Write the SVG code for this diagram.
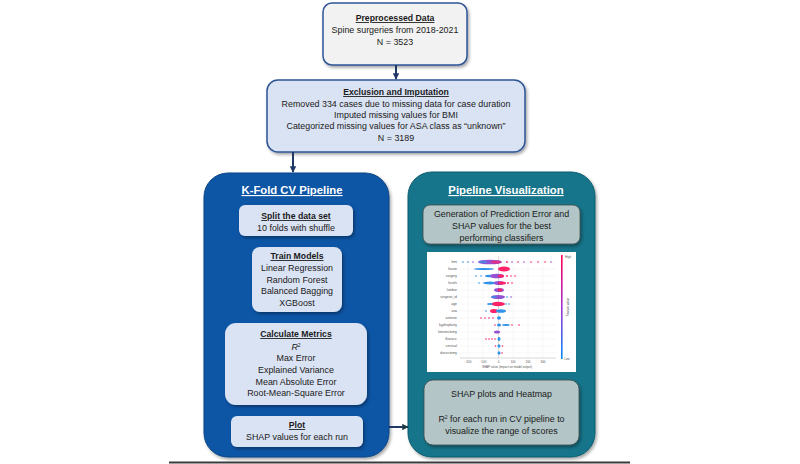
<svg xmlns="http://www.w3.org/2000/svg" width="800" height="464" viewBox="0 0 800 464">
<defs>
<style>
text{font-family:"Liberation Sans",Arial,sans-serif;text-anchor:middle;fill:#1a1a1a}
.b{font-size:8.9px}
.h{font-size:8.7px;font-weight:bold;text-decoration:underline}
.t{font-size:11.3px;font-weight:bold;text-decoration:underline;fill:#fff}
.lb{fill:#dae3f3}
.gb{fill:#b3c5c6;stroke:#3d4b4d;stroke-width:0.8}
.conn{stroke:#1f3864;stroke-width:2;fill:none}
.fl{font-size:3.4px;fill:#555;text-anchor:end}
.tk{font-size:3px;fill:#555}
.grid{stroke:#ececec;stroke-width:0.5}
.bl{fill:#1e88e5}
.pk{fill:#ff0d57}
.pu{fill:#8a3fd0}
</style>
<filter id="sh" x="-10%" y="-10%" width="125%" height="125%">
<feDropShadow dx="1.5" dy="2" stdDeviation="1.6" flood-color="#000" flood-opacity="0.35"/>
</filter>
<marker id="ah" viewBox="0 0 10 10" refX="9" refY="5" markerWidth="3.2" markerHeight="3.2" orient="auto">
<path d="M0,0 L10,5 L0,10 z" fill="#1f3864"/>
</marker>
<marker id="ah2" viewBox="0 0 10 10" refX="9" refY="5" markerWidth="3.2" markerHeight="3.2" orient="auto">
<path d="M0,0 L10,5 L0,10 z" fill="#1d3b45"/>
</marker>
<linearGradient id="cb" x1="0" y1="0" x2="0" y2="1">
<stop offset="0" stop-color="#ff0052"/>
<stop offset="0.5" stop-color="#a22fd0"/>
<stop offset="1" stop-color="#008bfb"/>
</linearGradient>
</defs>
<rect width="800" height="464" fill="#fff"/>

<g id="n-preprocessed">
<rect x="323" y="3" width="144" height="62" rx="9" fill="#f2f2f2" stroke="#2f5597" stroke-width="1.5" filter="url(#sh)"/>
<text class="h" x="395" y="21">Preprocessed Data</text>
<text class="b" x="395" y="33">Spine surgeries from 2018-2021</text>
<text class="b" x="395" y="45">N = 3523</text>
</g>

<g id="n-exclusion">
<rect x="267" y="80" width="258" height="72" rx="11" fill="#dae3f3" stroke="#2f5597" stroke-width="1.5" filter="url(#sh)"/>
<text class="h" x="396" y="95">Exclusion and Imputation</text>
<text class="b" x="396" y="106.5">Removed 334 cases due to missing data for case duration</text>
<text class="b" x="396" y="117.5">Imputed missing values for BMI</text>
<text class="b" x="396" y="129">Categorized missing values for ASA class as “unknown”</text>
<text class="b" x="396" y="140.5">N = 3189</text>
</g>

<g id="n-kfold">
<rect x="204" y="173" width="185" height="284" rx="24" fill="#0d55a5" stroke="#0a4585" stroke-width="1" filter="url(#sh)"/>
<text class="t" x="292" y="194">K-Fold CV Pipeline</text>
</g>

<g id="n-split">
<rect class="lb" x="239" y="205" width="114" height="31" rx="6" filter="url(#sh)"/>
<text class="h" x="296" y="219">Split the data set</text>
<text class="b" x="296" y="230.5">10 folds with shuffle</text>
</g>

<g id="n-train">
<rect class="lb" x="252" y="247" width="90" height="65" rx="8" filter="url(#sh)"/>
<text class="h" x="297" y="259">Train Models</text>
<text class="b" x="297" y="271">Linear Regression</text>
<text class="b" x="297" y="282.5">Random Forest</text>
<text class="b" x="297" y="294">Balanced Bagging</text>
<text class="b" x="297" y="305.5">XGBoost</text>
</g>

<g id="n-metrics">
<rect class="lb" x="225" y="323" width="142" height="82" rx="11" filter="url(#sh)"/>
<text class="h" x="296" y="337">Calculate Metrics</text>
<text class="b" x="296" y="349.5"><tspan font-style="italic">R</tspan><tspan font-size="5" dy="-3">2</tspan></text>
<text class="b" x="296" y="361">Max Error</text>
<text class="b" x="296" y="373">Explained Variance</text>
<text class="b" x="296" y="384.5">Mean Absolute Error</text>
<text class="b" x="296" y="396">Root-Mean-Square Error</text>
</g>

<g id="n-plot">
<rect class="lb" x="231" y="416" width="132" height="31" rx="6" filter="url(#sh)"/>
<text class="h" x="297" y="428">Plot</text>
<text class="b" x="297" y="440">SHAP values for each run</text>
</g>

<g id="n-viz">
<rect x="408" y="172" width="187" height="285" rx="24" fill="#15758a" stroke="#0f5d6e" stroke-width="1" filter="url(#sh)"/>
<text class="t" x="506" y="194">Pipeline Visualization</text>
</g>

<g id="n-generation">
<rect class="gb" x="423" y="205" width="157" height="39" rx="7" filter="url(#sh)"/>
<text class="b" x="501.5" y="216.5" font-size="9.2">Generation of Prediction Error and</text>
<text class="b" x="501.5" y="228.5" font-size="9.2">SHAP values for the best</text>
<text class="b" x="501.5" y="240.5" font-size="9.2">performing classifiers</text>
</g>

<g id="n-shapplot">
<rect x="427" y="252" width="149" height="120" fill="#fff"/>
<g class="grid">
<line x1="468" y1="256" x2="468" y2="358"/><line x1="483" y1="256" x2="483" y2="358"/>
<line x1="513" y1="256" x2="513" y2="358"/><line x1="528" y1="256" x2="528" y2="358"/>
<line x1="543" y1="256" x2="543" y2="358"/>
<line x1="460" y1="262" x2="556" y2="262"/><line x1="460" y1="269" x2="556" y2="269"/>
<line x1="460" y1="276" x2="556" y2="276"/><line x1="460" y1="283" x2="556" y2="283"/>
<line x1="460" y1="290" x2="556" y2="290"/><line x1="460" y1="297" x2="556" y2="297"/>
<line x1="460" y1="304" x2="556" y2="304"/><line x1="460" y1="311" x2="556" y2="311"/>
<line x1="460" y1="318" x2="556" y2="318"/><line x1="460" y1="325" x2="556" y2="325"/>
<line x1="460" y1="332" x2="556" y2="332"/><line x1="460" y1="339" x2="556" y2="339"/>
<line x1="460" y1="346" x2="556" y2="346"/><line x1="460" y1="353" x2="556" y2="353"/>
</g>
<line x1="498.5" y1="256" x2="498.5" y2="358" stroke="#bbb" stroke-width="0.5"/>
<line x1="460" y1="358" x2="556" y2="358" stroke="#999" stroke-width="0.4"/>
<text class="fl" x="457" y="263">bmi</text>
<text class="fl" x="457" y="270">fusion</text>
<text class="fl" x="457" y="277">surgery</text>
<text class="fl" x="457" y="284">levels</text>
<text class="fl" x="457" y="291">lumbar</text>
<text class="fl" x="457" y="298">surgeon_id</text>
<text class="fl" x="457" y="305">age</text>
<text class="fl" x="457" y="312">asa</text>
<text class="fl" x="457" y="319">anterior</text>
<text class="fl" x="457" y="326">kyphoplasty</text>
<text class="fl" x="457" y="333">laminectomy</text>
<text class="fl" x="457" y="340">thoracic</text>
<text class="fl" x="457" y="347">cervical</text>
<text class="fl" x="457" y="354">discectomy</text>
<g opacity="0.9">
<!-- bmi -->
<ellipse class="pu" cx="490" cy="262" rx="12" ry="2.3"/>
<ellipse class="pk" cx="496" cy="262" rx="5" ry="1.5" opacity="0.7"/>
<ellipse class="bl" cx="483" cy="262" rx="4" ry="1.2" opacity="0.7"/>
<circle class="bl" cx="463" cy="262" r="0.8"/><circle class="bl" cx="468" cy="262" r="0.8"/><circle class="pu" cx="473" cy="262" r="0.8"/>
<circle class="pk" cx="507" cy="262" r="0.9"/><circle class="pu" cx="512" cy="262" r="0.8"/><circle class="pk" cx="518" cy="262" r="0.8"/>
<circle class="pu" cx="524" cy="262" r="0.8"/><circle class="pk" cx="531" cy="262" r="0.8"/><circle class="pk" cx="538" cy="262" r="0.8"/>
<circle class="pk" cx="545" cy="262" r="0.8"/><circle class="pu" cx="551" cy="262" r="0.8"/>
<!-- fusion -->
<ellipse class="bl" cx="484" cy="269" rx="10" ry="1.1"/>
<ellipse class="pk" cx="504" cy="269" rx="6" ry="2.5"/>
<!-- surgery -->
<circle class="bl" cx="476" cy="276" r="0.8"/><circle class="bl" cx="481" cy="276" r="0.8"/>
<ellipse class="bl" cx="490" cy="276" rx="5" ry="1.3"/>
<ellipse class="pu" cx="497" cy="276" rx="7" ry="2.3"/>
<ellipse class="pk" cx="501" cy="276" rx="3" ry="1.5"/>
<circle class="pk" cx="507" cy="276" r="0.9"/><circle class="pk" cx="511" cy="276" r="0.8"/><circle class="pk" cx="515" cy="276" r="0.8"/>
<!-- levels -->
<circle class="bl" cx="479" cy="283" r="0.8"/>
<ellipse class="bl" cx="490" cy="283" rx="7" ry="1.5"/>
<ellipse class="pu" cx="499" cy="283" rx="5" ry="2"/>
<ellipse class="pk" cx="502" cy="283" rx="4" ry="1.5"/>
<circle class="pk" cx="508" cy="283" r="0.9"/><circle class="pk" cx="512" cy="283" r="0.8"/>
<!-- lumbar -->
<ellipse class="pu" cx="499" cy="290" rx="5" ry="2"/>
<ellipse class="pk" cx="500" cy="290" rx="2.5" ry="1.4"/>
<!-- surgeon_id -->
<ellipse class="pu" cx="498" cy="297" rx="7" ry="2"/>
<ellipse class="bl" cx="494" cy="297" rx="3" ry="1.2" opacity="0.7"/>
<circle class="bl" cx="507" cy="297" r="0.8"/><circle class="pu" cx="511" cy="297" r="0.8"/>
<!-- age -->
<ellipse class="pk" cx="498" cy="304" rx="7" ry="2.2"/>
<ellipse class="bl" cx="490" cy="304" rx="3" ry="1"/>
<circle class="bl" cx="506" cy="304" r="0.8"/><circle class="bl" cx="509" cy="304" r="0.8"/>
<!-- asa -->
<ellipse class="pk" cx="494" cy="311" rx="4" ry="2"/>
<ellipse class="bl" cx="501" cy="311" rx="5" ry="1.8"/>
<circle class="bl" cx="486" cy="311" r="0.8"/>
<!-- anterior -->
<circle class="pk" cx="481" cy="318" r="0.8"/><circle class="pk" cx="485" cy="318" r="0.8"/>
<circle class="pk" cx="489" cy="318" r="0.8"/><circle class="pk" cx="493" cy="318" r="0.8"/>
<ellipse class="bl" cx="499" cy="318" rx="2" ry="1.8"/>
<!-- kyphoplasty -->
<ellipse class="bl" cx="499" cy="325" rx="2" ry="1.5"/>
<ellipse class="bl" cx="506" cy="325" rx="4" ry="0.9"/>
<circle class="pk" cx="512" cy="325" r="0.8"/><circle class="pk" cx="519" cy="325" r="0.8"/>
<circle class="pk" cx="495" cy="325" r="0.8"/>
<!-- laminectomy -->
<ellipse class="pu" cx="497" cy="332" rx="3" ry="1.5"/>
<!-- thoracic -->
<circle class="pk" cx="486" cy="339" r="0.8"/><circle class="pk" cx="489" cy="339" r="0.8"/>
<circle class="pk" cx="492" cy="339" r="0.8"/><circle class="pk" cx="495" cy="339" r="0.8"/>
<ellipse class="bl" cx="499" cy="339" rx="1.5" ry="2"/>
<!-- cervical -->
<ellipse class="bl" cx="499" cy="346" rx="1.5" ry="1.8"/>
<circle class="pk" cx="495.5" cy="346" r="0.8"/><circle class="pk" cx="502.5" cy="346" r="0.8"/>
<!-- discectomy -->
<ellipse class="bl" cx="499" cy="353" rx="1.5" ry="1.8"/>
<circle class="pk" cx="502" cy="353" r="0.8"/>
</g>
<text class="tk" x="468" y="362.5">−200</text>
<text class="tk" x="483" y="362.5">−100</text>
<text class="tk" x="498.5" y="362.5">0</text>
<text class="tk" x="513" y="362.5">100</text>
<text class="tk" x="528" y="362.5">200</text>
<text class="tk" x="543" y="362.5">300</text>
<text class="tk" x="507" y="367.5" font-size="3.3">SHAP value (impact on model output)</text>
<rect x="561" y="255" width="1.6" height="104" fill="url(#cb)"/>
<text class="tk" x="568" y="258">High</text>
<text class="tk" x="567" y="360">Low</text>
<text class="tk" transform="translate(569,307) rotate(-90)">Feature value</text>
</g>

<g id="n-heatmap">
<rect class="gb" x="424" y="380" width="155" height="65" rx="9" filter="url(#sh)"/>
<text class="b" x="501.5" y="397">SHAP plots and Heatmap</text>
<text class="b" x="501.5" y="422">R<tspan font-size="5" dy="-3">2</tspan><tspan dy="3"> for each run in CV pipeline to</tspan></text>
<text class="b" x="501.5" y="434">visualize the range of scores</text>
</g>

<g id="connectors">
<line class="conn" x1="396" y1="65" x2="396" y2="79" marker-end="url(#ah)"/>
<line class="conn" x1="293" y1="152" x2="293" y2="172" marker-end="url(#ah)"/>
<line class="conn" x1="389" y1="427" x2="408" y2="427" stroke="#1d3b45" marker-end="url(#ah2)"/>
</g>

<rect x="169" y="461.5" width="461" height="2" fill="#3a3a3a"/>
</svg>
